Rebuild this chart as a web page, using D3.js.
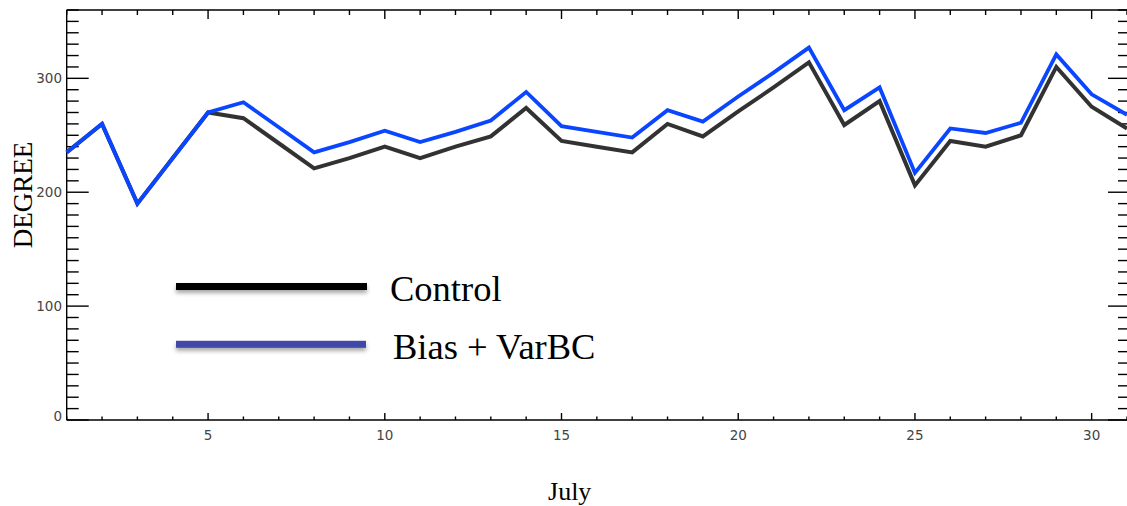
<!DOCTYPE html>
<html>
<head>
<meta charset="utf-8">
<script src="https://cdn.jsdelivr.net/npm/d3@7"></script>
<style>
  html, body { margin: 0; padding: 0; background: #fff; }
  svg { display: block; }
</style>
</head>
<body>
<svg id="chart" width="1127" height="506"></svg>
<script>
// ---- data ----
const days = d3.range(1, 32); // July 1..31
const controlValues = [235, 260, 190, 230, 270, 265, 243, 221, 230, 240, 230, 240, 249, 274, 245, 240, 235, 260, 249, 271, 292, 314, 259, 280, 206, 245, 240, 250, 310, 275, 256];
const biasVarBCValues = [235, 260, 190, 230, 270, 279, 257, 235, 244, 254, 244, 253, 263, 288, 258, 253, 248, 272, 262, 284, 305, 327, 272, 292, 217, 256, 252, 261, 321, 286, 268];
const xTickLabels = [5, 10, 15, 20, 25, 30];
const yTickLabels = [0, 100, 200, 300];
const seriesNames = ["Control", "Bias + VarBC"];
const xTitle = "July";
const yTitle = "DEGREE";

// ---- layout ----
const svg = d3.select("#chart");
const L = 66.7, R = 1127, T = 10, B = 420;
const x = d3.scaleLinear().domain([1, 31]).range([L, R]);
const y = d3.scaleLinear().domain([0, 360]).range([B, T]);

const defs = svg.append("defs");
const f = defs.append("filter").attr("id", "shadow")
  .attr("filterUnits", "userSpaceOnUse")
  .attr("x", 0).attr("y", 0).attr("width", 1127).attr("height", 506);
f.append("feDropShadow").attr("dx", 0).attr("dy", 3).attr("stdDeviation", 2).attr("flood-color", "#000").attr("flood-opacity", 0.35);
const soft = defs.append("filter").attr("id", "soft")
  .attr("filterUnits", "userSpaceOnUse")
  .attr("x", 0).attr("y", 0).attr("width", 1127).attr("height", 506);
soft.append("feGaussianBlur").attr("stdDeviation", 0.5);

// ---- axes ----
const axisG = svg.append("g").attr("stroke", "#000").attr("stroke-width", 1.4);
axisG.append("line").attr("x1", L).attr("x2", R + 2).attr("y1", T).attr("y2", T);
axisG.append("line").attr("x1", L).attr("x2", R + 2).attr("y1", B).attr("y2", B);
axisG.append("line").attr("x1", L).attr("x2", L).attr("y1", T).attr("y2", B);

const xt = d3.range(1, 32);
xt.forEach(d => {
  const major = d % 5 === 0;
  const px = x(d);
  axisG.append("line").attr("x1", px).attr("x2", px).attr("y1", B).attr("y2", B - (major ? 7 : 3.5));
  axisG.append("line").attr("x1", px).attr("x2", px).attr("y1", T).attr("y2", T + (major ? 9 : 5));
});
const yt = d3.range(0, 361, 10);
yt.forEach(v => {
  const major = v % 100 === 0;
  const py = y(v);
  axisG.append("line").attr("x1", L).attr("x2", L + (major ? 22 : 12)).attr("y1", py).attr("y2", py);
  axisG.append("line").attr("x1", R + 1).attr("x2", R + 1 - (major ? 20 : 10)).attr("y1", py).attr("y2", py);
});

// tick labels
const tickFont = "'DejaVu Sans', sans-serif";
svg.append("g").selectAll("text").data(xTickLabels).join("text")
  .attr("x", d => x(d)).attr("y", 440)
  .attr("text-anchor", "middle")
  .attr("font-family", tickFont).attr("font-size", 13.5).attr("fill", "#444")
  .text(d => d);
svg.append("g").selectAll("text").data(yTickLabels).join("text")
  .attr("x", 62).attr("y", d => Math.min(y(d), 416)).attr("dy", "0.36em")
  .attr("text-anchor", "end")
  .attr("font-family", tickFont).attr("font-size", 13.5).attr("fill", "#444")
  .text(d => d);

// ---- series lines ----
const line = d3.line().x((d, i) => x(days[i])).y(d => y(d));
svg.append("path").datum(controlValues)
  .attr("d", line).attr("fill", "none")
  .attr("stroke", "#333").attr("stroke-width", 4).attr("stroke-linejoin", "miter")
  .attr("filter", "url(#soft)");
svg.append("path").datum(biasVarBCValues)
  .attr("d", line).attr("fill", "none")
  .attr("stroke", "#0a46ff").attr("stroke-width", 3.8).attr("stroke-linejoin", "miter");

// ---- legend ----
const legend = svg.append("g");
const legendItems = [
  { name: seriesNames[0], color: "#000", y: 286.5, x2: 367, tx: 390, ty: 301 },
  { name: seriesNames[1], color: "#4048a8", y: 344.3, x2: 366, tx: 393, ty: 359 }
];
legendItems.forEach(it => {
  legend.append("rect").attr("x", 176).attr("width", it.x2 - 176).attr("y", it.y - 3.5).attr("height", 7)
    .attr("fill", it.color).attr("filter", "url(#shadow)");
  legend.append("text").attr("x", it.tx).attr("y", it.ty)
    .attr("font-family", "'Liberation Serif', 'Times New Roman', serif").attr("font-size", 36.5)
    .attr("fill", "#000").text(it.name);
});

// ---- axis titles ----
svg.append("text").attr("x", 569.7).attr("y", 500)
  .attr("text-anchor", "middle")
  .attr("font-family", "'Liberation Serif', 'Times New Roman', serif").attr("font-size", 26)
  .attr("fill", "#000").text(xTitle);
svg.append("text")
  .attr("transform", "translate(31.5,195) rotate(-90)")
  .attr("text-anchor", "middle")
  .attr("font-family", "'Liberation Serif', 'Times New Roman', serif").attr("font-size", 27)
  .attr("fill", "#000").text(yTitle);
</script>
</body>
</html>
